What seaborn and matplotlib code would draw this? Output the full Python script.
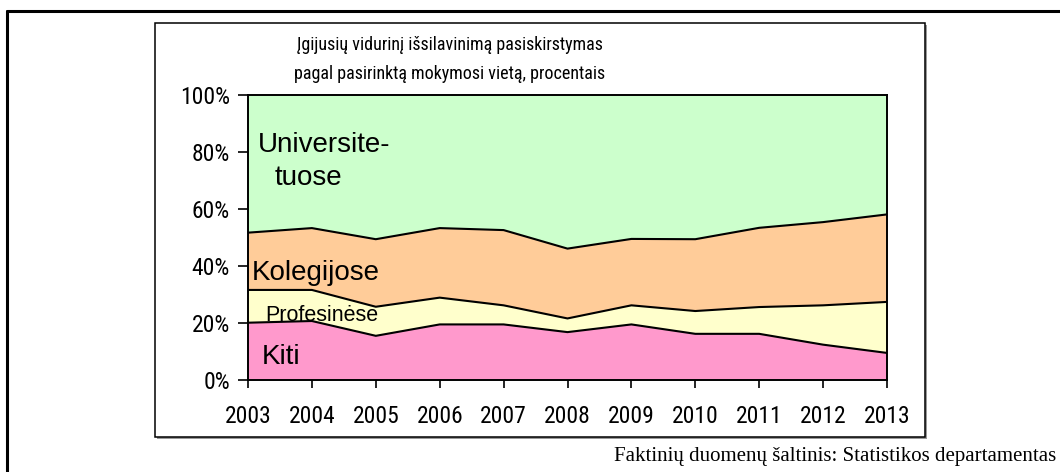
import matplotlib
matplotlib.use("Agg")
import matplotlib.pyplot as plt
import seaborn as sns
import numpy as np
from matplotlib import font_manager
from matplotlib.font_manager import FontProperties
from matplotlib.patches import Rectangle
from matplotlib.lines import Line2D

years = [2003, 2004, 2005, 2006, 2007, 2008, 2009, 2010, 2011, 2012, 2013]
kiti = [20.1, 20.7, 15.5, 19.5, 19.5, 16.8, 19.5, 16.2, 16.2, 12.4, 9.5]
profesinese = [11.5, 10.9, 10.2, 9.4, 6.7, 4.8, 6.7, 8.0, 9.4, 13.8, 17.9]
kolegijose = [20.1, 21.7, 23.7, 24.4, 26.4, 24.5, 23.3, 25.2, 27.8, 29.2, 30.7]
universitetuose = [48.3, 46.7, 50.6, 46.7, 47.4, 53.9, 50.5, 50.6, 46.6, 44.6, 41.9]
series_names = ["Kiti", "Profesinėse", "Kolegijose", "Universitetuose"]
colors = ["#FF99CC", "#FFFFCC", "#FFCC99", "#CCFFCC"]
ytick_labels = ["0%", "20%", "40%", "60%", "80%", "100%"]
title_lines = ["Įgijusių vidurinį išsilavinimą pasiskirstymas",
               "pagal pasirinktą mokymosi vietą, procentais"]
source_text = "Faktinių duomenų šaltinis: Statistikos departamentas"

sns.set_style("white")
plt.rcParams["font.family"] = ["Liberation Sans", "DejaVu Sans"]
plt.rcParams["text.color"] = "black"
plt.rcParams["xtick.color"] = "black"
plt.rcParams["ytick.color"] = "black"
plt.rcParams["axes.labelcolor"] = "black"


def _is_regular(f):
    w = f.weight
    okw = (w in ("normal", "regular", "book", 400, "400"))
    return okw and f.style == "normal"


def _stretch_condensed(f):
    s = f.stretch
    if isinstance(s, str):
        return "condensed" in s or "narrow" in s
    try:
        return float(s) < 500
    except Exception:
        return False


def pick_narrow():
    ttfs = font_manager.fontManager.ttflist
    prefs = [
        lambda f: f.name == "Liberation Sans Narrow",
        lambda f: f.name == "Arial Narrow",
        lambda f: f.name == "Roboto Condensed",
        lambda f: f.name == "Roboto" and _stretch_condensed(f),
        lambda f: "Open Sans Condensed" in f.name,
        lambda f: f.name == "Open Sans" and _stretch_condensed(f),
        lambda f: f.name == "DejaVu Sans" and _stretch_condensed(f),
    ]
    for p in prefs:
        for f in ttfs:
            try:
                if p(f) and _is_regular(f):
                    return FontProperties(fname=f.fname)
            except Exception:
                pass
    return FontProperties(family="Liberation Sans")


narrow_fp = pick_narrow()

W, H = 1060, 472
fig = plt.figure(figsize=(W / 100, H / 100), dpi=100)
renderer = fig.canvas.get_renderer()


def fit_size(s, target_px, max_size):
    t = fig.text(0, 0, s, fontproperties=narrow_fp, fontsize=10)
    w = t.get_window_extent(renderer).width
    t.remove()
    return min(max_size, 10 * target_px / w)


# outer frame (top and left lines)
fig.add_artist(Line2D([7 / W, 1.0], [1 - 11 / H, 1 - 11 / H], color="black", lw=2.2))
fig.add_artist(Line2D([7 / W, 7 / W], [1 - 11 / H, 0], color="black", lw=2.2))
# inner chart box with small shadow
fig.add_artist(Rectangle((157 / W, 1 - 439 / H), (925 - 155) / W, (439 - 25) / H,
                         transform=fig.transFigure, facecolor="#999999",
                         edgecolor="none", zorder=0))
fig.add_artist(Rectangle((155 / W, 1 - 437 / H), (925 - 155) / W, (437 - 23) / H,
                         transform=fig.transFigure, facecolor="white",
                         edgecolor="black", lw=1.1, zorder=0.5))

ax = fig.add_axes([248 / W, 1 - 380 / H, (887 - 248) / W, (380 - 95) / H])
ax.set_zorder(2)
vals = [kiti, profesinese, kolegijose, universitetuose]
ax.stackplot(years, *vals, colors=colors, edgecolor="none", linewidth=0)
cum = np.cumsum(np.array(vals), axis=0)
for row in cum[:3]:
    sns.lineplot(x=years, y=row, ax=ax, color="black", linewidth=1.5)

xs = fit_size("2003", 46, 18)
ys = fit_size("100%", 49, 17)
ax.set_xlim(2003, 2013)
ax.set_ylim(0, 100)
ax.set_xticks(years)
ax.set_xticklabels([str(y) for y in years], fontproperties=narrow_fp, fontsize=xs)
ax.set_yticks([0, 20, 40, 60, 80, 100])
ax.set_yticklabels(ytick_labels, fontproperties=narrow_fp, fontsize=ys)
ax.tick_params(axis="x", direction="out", length=6, width=1.2, pad=12,
               color="black", labelcolor="black")
ax.tick_params(axis="y", direction="out", length=7, width=1.2, pad=6,
               color="black", labelcolor="black")
ax.tick_params(bottom=True, left=True)
for s in ax.spines.values():
    s.set_visible(True)
    s.set_color("black")
    s.set_linewidth(1.4)
ax.set_xlabel("")
ax.set_ylabel("")
ax.grid(False)

ax.text(2003.16, 80.0, "Universite-", fontsize=20, va="baseline", ha="left", color="black")
ax.text(2003.41, 68.4, "tuose", fontsize=20, va="baseline", ha="left", color="black")
ax.text(2003.06, 35.1, "Kolegijose", fontsize=20, va="baseline", ha="left", color="black")
ax.text(2003.27, 20.8, "Profesinėse", fontsize=15.5, va="baseline", ha="left", color="black")
ax.text(2003.22, 5.6, "Kiti", fontsize=20, va="baseline", ha="left", color="black")

ts1 = fit_size(title_lines[0], 305, 16)
ts2 = fit_size(title_lines[1], 309, 16)
ts = min(ts1, ts2)
fig.text(450 / W, 1 - 45 / H, title_lines[0], ha="center", va="center",
         fontproperties=narrow_fp, fontsize=ts, color="black")
fig.text(450 / W, 1 - 74 / H, title_lines[1], ha="center", va="center",
         fontproperties=narrow_fp, fontsize=ts, color="black")

fig.text(1056 / W, 1 - 456 / H, source_text, ha="right", va="center",
         family=["Liberation Serif", "DejaVu Serif"], fontsize=15, color="black")

fig.savefig("out.png", dpi=100)
